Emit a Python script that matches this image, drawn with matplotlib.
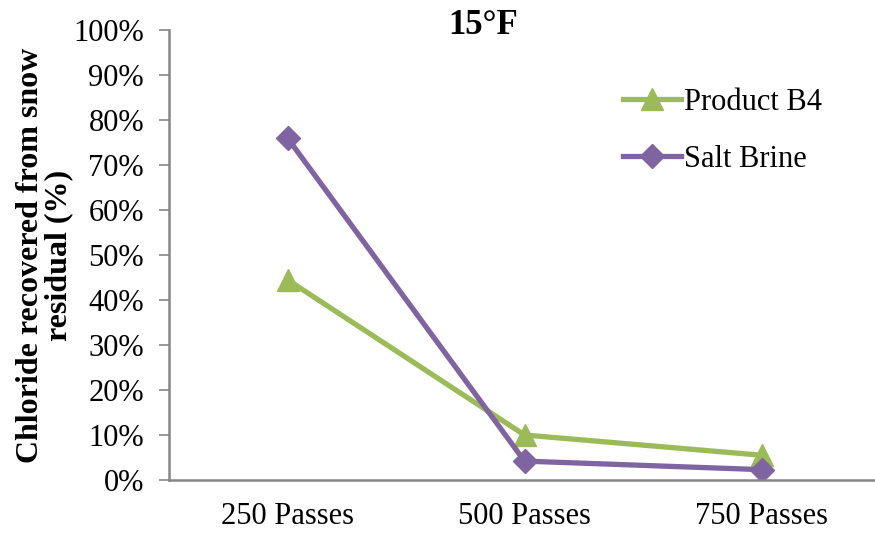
import matplotlib.pyplot as plt
from matplotlib.ticker import PercentFormatter

# data
categorias = ["250 Passes", "500 Passes", "750 Passes"]
product_b4 = [44.5, 10.0, 5.5]
salt_brine = [76.0, 4.2, 2.3]

plt.rcParams["font.family"] = ["Liberation Serif", "DejaVu Serif"]

fig = plt.figure(figsize=(8.75, 5.34), dpi=100)
ax = fig.add_axes([169 / 875, 1 - 480 / 534, 711 / 875, 450 / 534])

x = range(len(categorias))
ax.plot(x, product_b4, color="#9bbb59", lw=3.8, marker="^", ms=16, label="Product B4")
ax.plot(x, salt_brine, color="#8064a2", lw=3.8, marker="D", ms=12, label="Salt Brine")

ax.set_xlim(-0.5, 2.5)
ax.set_ylim(0, 100)
ax.set_yticks(range(0, 101, 10))
ax.yaxis.set_major_formatter(PercentFormatter(decimals=0))
ax.set_xticks(list(x))
ax.set_xticklabels(categorias)
ax.tick_params(axis="y", labelsize=22, length=7, width=1.2, color="#868686", pad=11)
ax.tick_params(axis="x", labelsize=22, length=0, pad=16)

for s in ["top", "right"]:
    ax.spines[s].set_visible(False)
for s in ["left", "bottom"]:
    ax.spines[s].set_color("#868686")
    ax.spines[s].set_linewidth(1.8)

fig.text(483 / 875, 1 - 25 / 534, "15°F", fontsize=25, fontweight="bold",
         ha="center", va="center")
ax.set_ylabel("Chloride recovered from snow\nresidual (%)", fontsize=23,
              fontweight="bold", linespacing=0.95, labelpad=0)

ax.legend(loc="upper left", bbox_to_anchor=(0.60, 0.932), frameon=False, fontsize=22,
          handlelength=1.9, handletextpad=0.1, labelspacing=0.9)

fig.savefig("out.png", dpi=100)
